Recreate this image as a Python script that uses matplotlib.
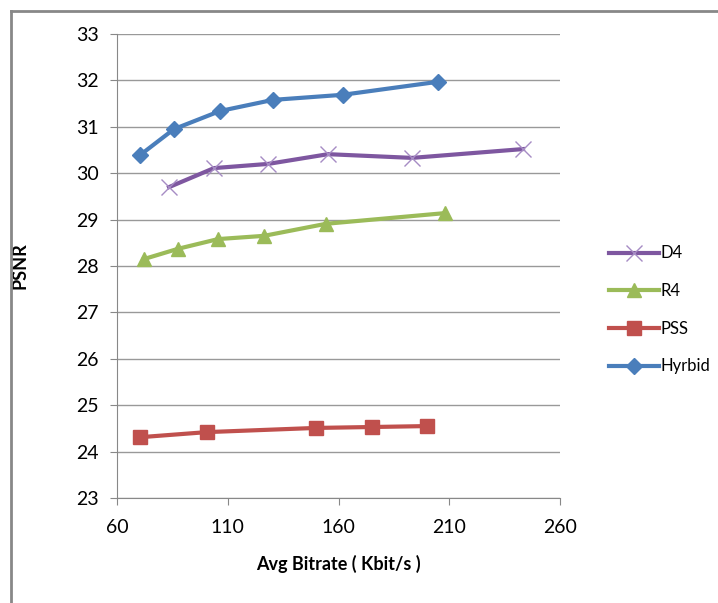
import matplotlib.pyplot as plt
from matplotlib.lines import Line2D

# data
d4_x = [83.5, 103.8, 128.2, 155.3, 193.2, 243.3]
d4_y = [29.70, 30.11, 30.20, 30.41, 30.33, 30.52]
r4_x = [72.2, 87.5, 105.6, 126.4, 154.4, 208.1]
r4_y = [28.15, 28.37, 28.58, 28.65, 28.91, 29.14]
pss_x = [70.4, 100.6, 149.8, 175.1, 200.0]
pss_y = [24.31, 24.42, 24.51, 24.53, 24.55]
hyb_x = [70.4, 85.7, 106.5, 130.4, 162.0, 204.9]
hyb_y = [30.39, 30.95, 31.34, 31.58, 31.69, 31.97]

xticks = [60, 110, 160, 210, 260]
yticks = list(range(23, 34))

W, H = 718, 603
fig = plt.figure(figsize=(W / 100, H / 100), dpi=100)
plt.rcParams['font.family'] = ['Lato', 'DejaVu Sans']
ax = fig.add_axes([117 / W, 1 - 498 / H, (560 - 117) / W, (498 - 34) / H])

ax.plot(d4_x, d4_y, color='#7e57a0', lw=3, marker='x', ms=11, mew=1.0,
        mec='#a68cc4', label='D4')
ax.plot(r4_x, r4_y, color='#9bbb59', lw=3, marker='^', ms=10, label='R4')
ax.plot(pss_x, pss_y, color='#c0504d', lw=3, marker='s', ms=10, label='PSS')
ax.plot(hyb_x, hyb_y, color='#4a7ebb', lw=3, marker='D', ms=8, label='Hyrbid')

ax.set_xlim(60, 260)
ax.set_ylim(23, 33)
ax.set_xticks(xticks)
ax.set_yticks(yticks)
ax.grid(axis='y', color='#999999', lw=1)
ax.set_axisbelow(True)
for s in ['top', 'right']:
    ax.spines[s].set_visible(False)
for s in ['left', 'bottom']:
    ax.spines[s].set_color('#888888')
ax.tick_params(direction='out', length=5, color='#888888', labelsize=14)
ax.tick_params(axis='x', pad=10)
ax.tick_params(axis='y', pad=8)

ax.set_xlabel('Avg Bitrate ( Kbit/s )', fontsize=13, fontweight='bold',
              labelpad=14)
ax.set_ylabel('PSNR', fontsize=13, fontweight='bold', labelpad=34)

ax.legend(loc='center left', bbox_to_anchor=(594 / W, 1 - 310 / H),
          bbox_transform=fig.transFigure, frameon=False, fontsize=12,
          handlelength=3.0, labelspacing=1.3, handletextpad=0.1)

# chart frame (cropped at right and bottom)
fig.add_artist(Line2D([11 / W, 11 / W], [0, 1 - 11 / H], transform=fig.transFigure,
                      color='#888888', lw=2))
fig.add_artist(Line2D([11 / W, 1], [1 - 11 / H, 1 - 11 / H], transform=fig.transFigure,
                      color='#888888', lw=2))

fig.savefig('out.png', dpi=100)
